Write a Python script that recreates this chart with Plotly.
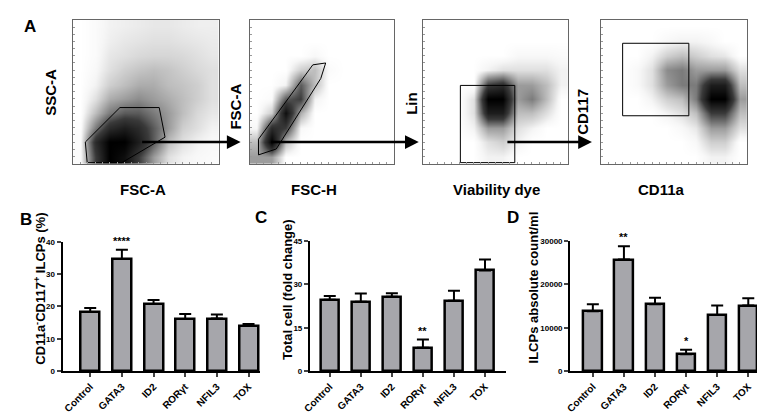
import plotly.graph_objects as go

W, H = 765, 416

# ---------------------------------------------------------------------
# Data
# ---------------------------------------------------------------------
GENES = ["Control", "GATA3", "ID2", "RORγt", "NFIL3", "TOX"]

ILCP_PCT = [18.3, 34.7, 20.8, 16.1, 16.3, 14.0]
ILCP_PCT_ERR = [1.2, 2.9, 1.2, 1.6, 1.2, 0.6]
STARS_B = ["", "****", "", "", "", ""]

FOLD = [24.7, 24.0, 25.7, 8.1, 24.3, 34.8]
FOLD_ERR = [1.3, 2.8, 1.2, 2.8, 3.5, 3.8]
STARS_C = ["", "", "", "**", "", ""]

COUNT = [13800, 25700, 15400, 3900, 12900, 15100]
COUNT_ERR = [1600, 3100, 1500, 1000, 2200, 1700]
STARS_D = ["", "**", "", "*", "", ""]

# flow cytometry density grids (rows = y bins bottom->top, cols = x bins)
GRID = [0.5, 1.5, 2.5, 3.5, 4.5, 5.5, 6.5, 7.5, 8.5, 9.5]

DENS_FSC_SSC = [
    [0.2, 6, 10, 9, 6, 3, 1, 0.5, 0.3, 0.2],
    [0.2, 7, 10, 10, 8, 5, 2, 1, 0.5, 0.3],
    [0.1, 4, 7, 8, 7, 5, 3, 1.5, 1, 0.5],
    [0, 2, 4, 5, 5, 4, 3, 2, 1.2, 0.8],
    [0, 1, 2.5, 3, 3.5, 3, 2.5, 2, 1.5, 1],
    [0, 0.5, 1.5, 2, 2.5, 2.5, 2, 1.8, 1.5, 1],
    [0, 0.3, 1, 1.5, 1.8, 2, 1.8, 1.5, 1.2, 1],
    [0, 0.2, 0.8, 1, 1.2, 1.3, 1.3, 1.2, 1, 0.8],
    [0, 0.2, 0.6, 0.8, 0.9, 1, 1, 0.9, 0.8, 0.7],
    [0, 0.2, 0.5, 0.6, 0.7, 0.8, 0.8, 0.7, 0.6, 0.6],
]
DENS_FSCH_FSCA = [
    [3, 3, 0, 0, 0, 0, 0, 0, 0, 0],
    [2, 10, 2, 0, 0, 0, 0, 0, 0, 0],
    [0.3, 7, 6, 0.3, 0, 0, 0, 0, 0, 0],
    [0, 1.5, 9, 2.5, 0, 0, 0, 0, 0, 0],
    [0, 0.2, 5, 6, 0.5, 0, 0, 0, 0, 0],
    [0, 0, 0.5, 5, 2, 0, 0, 0, 0, 0],
    [0, 0, 0, 1.5, 2, 0.2, 0, 0, 0, 0],
    [0, 0, 0, 0, 0.3, 0, 0, 0, 0, 0],
    [0, 0, 0, 0, 0, 0, 0, 0, 0, 0],
    [0, 0, 0, 0, 0, 0, 0, 0, 0, 0],
]
DENS_VIAB_LIN = [
    [0, 0, 0, 0, 0.5, 0.5, 0, 0, 0, 0],
    [0, 0, 0, 0, 1, 1.5, 0.5, 0, 0, 0],
    [0, 0, 0, 0.5, 3, 3, 1, 0.5, 0, 0],
    [0, 0, 0, 1, 8, 8, 2, 2, 1, 0],
    [0, 0, 0, 1, 10, 10, 3, 4, 2, 0],
    [0, 0, 0, 0, 6, 7, 3, 3, 2, 0.5],
    [0, 0, 0, 0, 0.5, 1, 1, 1, 1, 0.5],
    [0, 0, 0, 0, 0, 0, 0.3, 0.3, 0.3, 0.2],
    [0, 0, 0, 0, 0, 0, 0, 0, 0, 0],
    [0, 0, 0, 0, 0, 0, 0, 0, 0, 0],
]
DENS_CD11A_CD117 = [
    [0, 0, 0, 0, 0, 0, 0, 0.5, 0.5, 0],
    [0, 0, 0, 0, 0, 0, 0.3, 1.5, 1.5, 0],
    [0, 0, 0, 0, 0, 0.3, 0.8, 3, 3, 1],
    [0, 0, 0, 0, 0.5, 1, 2, 6, 6, 2],
    [0, 0, 0, 0.5, 1.5, 2, 4, 10, 10, 3],
    [0, 0, 0.3, 1, 3, 4, 4, 8, 8, 2],
    [0, 0, 0.3, 1, 3.5, 4, 3, 3, 3, 1],
    [0, 0, 0, 0.5, 1.5, 2, 1.5, 1, 0.8, 0],
    [0, 0, 0, 0, 0.3, 0.5, 0.5, 0.3, 0, 0],
    [0, 0, 0, 0, 0, 0, 0, 0, 0, 0],
]

GATE1_X = [0.95, 0.82, 3.2, 5.9, 6.3, 3.33, 0.95]
GATE1_Y = [0.07, 1.5, 3.9, 3.9, 1.84, 0.07, 0.07]
GATE2_X = [0.62, 0.62, 4.38, 5.27, 4.93, 1.85, 0.62]
GATE2_Y = [0.61, 1.7, 6.87, 7.0, 5.92, 1.02, 0.61]
GATE3_X = [2.59, 2.59, 6.33, 6.33, 2.59]
GATE3_Y = [0.07, 5.44, 5.44, 0.07, 0.07]
GATE4_X = [1.49, 1.49, 6.01, 6.01, 1.49]
GATE4_Y = [3.33, 8.37, 8.37, 3.33, 3.33]

# ---------------------------------------------------------------------
# Helpers
# ---------------------------------------------------------------------
FONT = "Liberation Sans, Arial, sans-serif"
BAR_GRAY = "#a6a6ab"
GRAYS = [[0, "white"], [0.04, "#f6f6f6"], [0.1, "#e0e0e0"],
         [0.3, "#9c9c9c"], [0.6, "#3a3a3a"], [1, "black"]]


def dx(a, b):
    return [a / W, b / W]


def dy(top, bottom):
    return [1 - bottom / H, 1 - top / H]


def px(x, y):
    return x / W, 1 - y / H


def bold(size):
    return dict(family=FONT, size=size, color="black", weight="bold")


fig = go.Figure()
annotations = []

# ---------------------------------------------------------------------
# Panel A — flow plots
# ---------------------------------------------------------------------
flow = [
    (DENS_FSC_SSC, GATE1_X, GATE1_Y, (58, 205)),
    (DENS_FSCH_FSCA, GATE2_X, GATE2_Y, (236, 382)),
    (DENS_VIAB_LIN, GATE3_X, GATE3_Y, (411, 558)),
    (DENS_CD11A_CD117, GATE4_X, GATE4_Y, (591, 739)),
]
for i, (dens, gx, gy, (x0, x1)) in enumerate(flow, start=1):
    sx = "" if i == 1 else str(i)
    fig.add_trace(go.Heatmap(
        z=dens, x=GRID, y=GRID, zmin=0, zmax=10, zsmooth="best",
        colorscale=GRAYS, showscale=False, hoverinfo="skip",
        xaxis="x" + sx, yaxis="y" + sx,
    ))
    fig.add_trace(go.Scatter(
        x=gx, y=gy, mode="lines", line=dict(color="black", width=1),
        hoverinfo="skip", showlegend=False, xaxis="x" + sx, yaxis="y" + sx,
    ))
    common = dict(range=[0, 10], showgrid=False, zeroline=False,
                  showticklabels=False, showline=True, mirror=True,
                  linecolor="#666", linewidth=1, ticks="inside",
                  ticklen=2, tickcolor="#999", dtick=0.5)
    fig.update_layout({
        "xaxis" + sx: dict(domain=dx(x0, x1), anchor="y" + sx, **common),
        "yaxis" + sx: dict(domain=dy(8, 155), anchor="x" + sx, **common),
    })

flow_labels = [
    ("SSC-A", 35, 82, -90), ("FSC-A", 128, 181, 0),
    ("FSC-A", 222, 97, -90), ("FSC-H", 301, 181, 0),
    ("Lin", 400, 93, -90), ("Viability dye", 486, 181, 0),
    ("CD117", 573, 102, -90), ("CD11a", 652, 181, 0),
]
for txt, x, y, ang in flow_labels:
    ax_, ay_ = px(x, y)
    annotations.append(dict(
        text=txt, x=ax_, y=ay_, xref="paper", yref="paper", showarrow=False,
        textangle=ang, xanchor="center", yanchor="middle", font=bold(15),
    ))

for head, tail in [(227, 127), (407, 258), (582, 496)]:
    hx, hy = px(head, 133)
    annotations.append(dict(
        x=hx, y=hy, xref="paper", yref="paper", ax=tail - head, ay=0,
        axref="pixel", ayref="pixel", text="", showarrow=True,
        arrowhead=2, arrowsize=1.1, arrowwidth=2.5, arrowcolor="black",
        standoff=0,
    ))

# ---------------------------------------------------------------------
# Panels B, C, D — bar charts
# ---------------------------------------------------------------------
bars = [
    (ILCP_PCT, ILCP_PCT_ERR, STARS_B, (47, 247), (235, 367), [0, 40], 10,
     [-0.875, 5.375], "CD11a<sup>-</sup>CD117<sup>+</sup> ILCPs (%)", 24, 283),
    (FOLD, FOLD_ERR, STARS_C, (297, 495), (234, 367), [0, 45], 15,
     [-0.64, 5.67], "Total cell (fold change)", 275, 284),
    (COUNT, COUNT_ERR, STARS_D, (560, 762), (234, 367), [0, 30000], 10000,
     [-0.73, 5.7], "ILCPs absolute count/ml", 523, 282),
]
for j, (vals, errs, stars, (x0, x1), (yt, yb), yr, dt, xr, title, tx, ty) in \
        enumerate(bars, start=5):
    sx = str(j)
    fig.add_trace(go.Bar(
        x=GENES, y=vals, width=0.6,
        marker=dict(color=BAR_GRAY, line=dict(color="black", width=2.5)),
        error_y=dict(type="data", array=errs, arrayminus=[0] * len(errs),
                     symmetric=False, color="black", thickness=2, width=6),
        showlegend=False, hoverinfo="skip", xaxis="x" + sx, yaxis="y" + sx,
    ))
    fig.update_layout({
        "xaxis" + sx: dict(
            domain=dx(x0, x1), anchor="y" + sx, range=xr, type="category",
            showline=True, linecolor="black", linewidth=2, showgrid=False,
            ticks="outside", ticklen=4, tickwidth=1.5, tickangle=-45,
            tickfont=bold(10),
        ),
        "yaxis" + sx: dict(
            domain=dy(yt, yb), anchor="x" + sx, range=yr, dtick=dt,
            tickformat="d", showline=True, linecolor="black", linewidth=2,
            showgrid=False, zeroline=False, ticks="outside", ticklen=4,
            tickwidth=1.5, tickfont=bold(8),
        ),
    })
    for g, v, e, s in zip(GENES, vals, errs, stars):
        if s:
            annotations.append(dict(
                text=s, x=g, y=v + e, xref="x" + sx, yref="y" + sx,
                showarrow=False, yanchor="bottom", yshift=1, font=bold(11),
            ))
    ax_, ay_ = px(tx, ty)
    annotations.append(dict(
        text=title, x=ax_, y=ay_, xref="paper", yref="paper",
        showarrow=False, textangle=-90, xanchor="center", yanchor="middle",
        font=bold(13),
    ))

for letter, x, y in [("A", 14, 15), ("B", 10, 212), ("C", 248, 210),
                     ("D", 502, 210)]:
    ax_, ay_ = px(x, y)
    annotations.append(dict(
        text=letter, x=ax_, y=ay_, xref="paper", yref="paper",
        showarrow=False, xanchor="center", yanchor="middle", font=bold(17),
    ))

fig.update_layout(
    width=W, height=H, margin=dict(l=0, r=0, t=0, b=0),
    paper_bgcolor="white", plot_bgcolor="white",
    annotations=annotations, bargap=0,
)
fig.write_html("out.html")
